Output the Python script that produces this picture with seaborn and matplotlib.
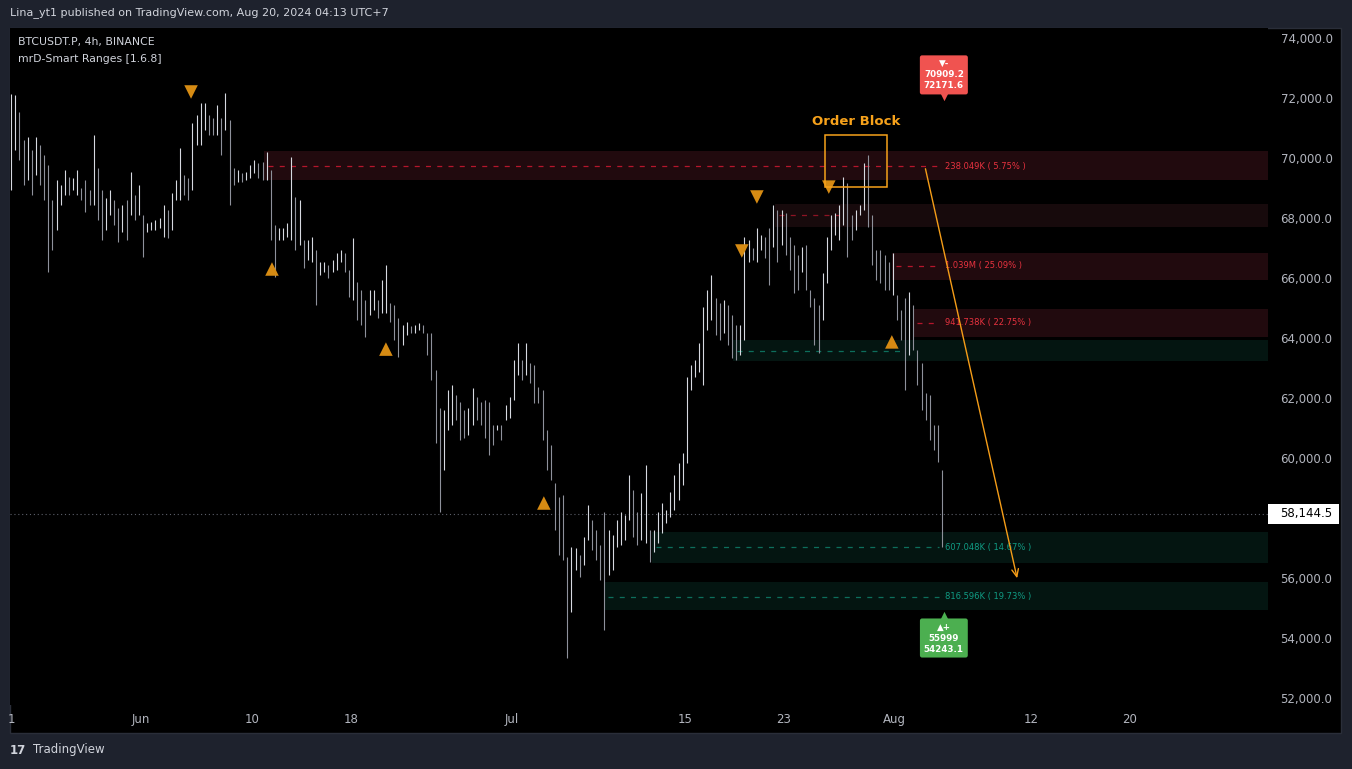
"""
BTCUSDT.P 4h chart with mrD-Smart Ranges zones, redrawn with seaborn/matplotlib.
Run: python plot.py  -> out.png
"""
import numpy as np
import pandas as pd
import matplotlib.pyplot as plt
import matplotlib.transforms as mtransforms
from matplotlib.patches import Rectangle
import seaborn as sns

W, H = 1352, 769

# price bars (8h), values in thousand USDT; day 0 = Jun 1, first bar May 21 12:00
FIRST_DAY = -10.5
BAR_HIGH = [
    72.13, 72.10, 71.53, 70.60, 70.70, 70.27, 70.70, 70.43, 70.10, 69.77,
    68.60, 69.27, 69.10, 69.60, 69.37, 69.33, 69.60, 69.00, 69.27, 68.93,
    70.77, 69.67, 68.93, 68.67, 68.93, 68.60, 68.33, 68.43, 68.60, 69.53,
    68.77, 69.10, 68.10, 67.83, 67.87, 67.93, 68.00, 68.43, 68.27, 68.83,
    69.27, 70.33, 69.43, 69.33, 71.17, 71.43, 71.83, 71.83, 71.43, 71.33,
    71.77, 71.33, 72.17, 71.27, 69.67, 69.60, 69.50, 69.53, 69.77, 69.93,
    69.83, 69.87, 70.20, 69.60, 67.77, 67.67, 67.67, 67.83, 70.03, 68.70,
    68.60, 67.27, 67.27, 67.37, 66.93, 66.53, 66.53, 66.43, 66.60, 66.83,
    66.93, 66.83, 66.27, 67.33, 65.87, 65.60, 65.27, 65.60, 65.60, 65.27,
    65.93, 66.43, 65.17, 65.10, 64.67, 64.43, 64.53, 64.40, 64.43, 64.50,
    64.43, 64.17, 64.17, 62.93, 61.67, 61.60, 62.27, 62.43, 62.10, 61.87,
    61.60, 61.67, 62.33, 62.03, 61.87, 61.93, 61.87, 61.10, 61.10, 61.10,
    61.77, 62.03, 63.27, 63.83, 63.27, 63.83, 63.17, 63.10, 62.37, 62.27,
    60.93, 60.43, 59.17, 58.70, 58.77, 56.70, 57.03, 57.00, 56.77, 57.37,
    58.43, 57.93, 57.60, 57.10, 58.20, 57.60, 57.43, 57.93, 58.20, 58.10,
    59.43, 58.93, 58.20, 58.83, 59.77, 57.60, 57.60, 58.20, 58.50, 58.27,
    58.87, 59.43, 59.83, 60.17, 62.70, 63.10, 63.27, 63.83, 65.03, 65.60,
    66.10, 65.33, 65.17, 65.27, 65.10, 64.77, 64.43, 64.43, 67.37, 67.27,
    67.00, 67.67, 67.43, 67.37, 67.67, 68.43, 68.27, 68.27, 68.17, 67.37,
    67.10, 66.77, 67.03, 67.10, 65.60, 65.33, 65.10, 66.17, 67.37, 68.10,
    68.17, 68.43, 69.37, 69.17, 68.10, 68.27, 68.43, 69.83, 70.10, 68.10,
    66.93, 66.93, 66.77, 66.53, 66.83, 65.43, 64.93, 65.33, 65.53, 65.10,
    63.60, 63.17, 62.17, 62.10, 61.10, 61.10, 59.60,
]
BAR_LOW = [
    68.93, 70.27, 69.93, 69.10, 69.27, 68.77, 69.43, 69.10, 68.60, 66.20,
    66.93, 67.60, 68.43, 68.77, 68.77, 68.93, 68.77, 68.60, 68.20, 68.43,
    68.43, 67.93, 67.27, 67.60, 68.10, 67.77, 67.20, 67.53, 67.27, 68.10,
    67.93, 68.10, 66.70, 67.53, 67.60, 67.60, 67.67, 67.37, 67.33, 67.60,
    68.60, 68.60, 68.77, 68.60, 68.93, 70.43, 70.43, 70.93, 70.77, 70.77,
    70.77, 70.10, 70.93, 68.43, 69.10, 69.20, 69.20, 69.27, 69.33, 69.50,
    69.33, 69.27, 69.27, 67.27, 66.03, 67.27, 67.27, 67.37, 67.27, 66.93,
    67.10, 66.33, 66.60, 66.53, 65.10, 66.10, 66.20, 66.00, 66.20, 66.27,
    66.53, 66.20, 65.37, 65.27, 64.60, 64.43, 64.03, 64.77, 64.93, 64.67,
    64.83, 64.83, 64.53, 63.93, 63.37, 63.77, 64.10, 64.17, 64.17, 64.27,
    64.17, 63.43, 62.60, 60.50, 58.20, 59.60, 60.93, 61.10, 61.27, 60.60,
    60.67, 60.77, 61.10, 61.27, 61.10, 60.67, 60.10, 60.43, 60.93, 60.60,
    61.27, 61.33, 61.93, 62.77, 62.60, 62.77, 62.50, 61.83, 61.83, 60.60,
    59.60, 59.27, 57.60, 56.77, 56.60, 53.33, 54.87, 56.27, 56.03, 56.43,
    57.27, 56.93, 56.60, 55.93, 54.27, 56.10, 56.27, 57.03, 57.10, 57.27,
    57.93, 57.37, 57.10, 57.27, 57.17, 56.53, 56.87, 57.17, 57.50, 57.83,
    58.03, 58.27, 58.60, 59.10, 59.83, 62.27, 62.70, 62.87, 62.43, 64.27,
    64.60, 64.10, 63.93, 64.17, 63.77, 63.33, 63.27, 63.43, 63.93, 66.53,
    66.60, 66.53, 66.93, 66.67, 65.77, 67.03, 66.53, 67.10, 66.77, 66.27,
    65.50, 65.60, 66.20, 65.60, 65.03, 63.77, 63.50, 64.60, 65.83, 66.93,
    67.43, 67.27, 67.77, 66.70, 67.27, 67.60, 68.10, 68.27, 67.70, 66.43,
    65.93, 65.83, 65.60, 65.60, 65.43, 64.60, 63.93, 62.27, 63.43, 63.60,
    62.43, 61.60, 61.27, 60.60, 60.27, 59.87, 57.03,
]
LAST_PRICE = 58144.5

# axes
X_MIN, X_MAX = -10.6, 91.2
Y_MIN, Y_MAX = 51767, 74333
TICK_DAYS = [-10.5, 0, 9, 17, 30, 44, 52, 61, 72, 80]
TICK_LABELS = ["1", "Jun", "10", "18", "Jul", "15", "23", "Aug", "12", "20"]
# 58,000 is covered by the last-price tag in the original
PRICE_TICKS = [52000, 54000, 56000, 60000, 62000, 64000, 66000, 68000, 70000, 72000, 74000]

# smart range zones (supply = red, demand = green)
ZONE_SIDE = ["supply", "supply_weak", "supply", "supply", "demand", "demand", "demand"]
ZONE_START = [9.95, 51.3, 60.76, 62.46, 47.9, 41.34, 37.46]
ZONE_TOP = [70233, 68467, 66833, 64967, 63933, 57533, 55867]
ZONE_BOTTOM = [69267, 67700, 65933, 64033, 63233, 56500, 54933]
ZONE_LEVEL = [69733, 68100, 66400, 64500, 63567, 57033, 55367]
ZONE_DASH_END = [64.6, 56.5, 64.6, 64.6, 61.4, 64.6, 64.6]
ZONE_LABEL = ["238.049K ( 5.75% )", "", "1.039M ( 25.09% )", "941.738K ( 22.75% )",
              "", "607.048K ( 14.67% )", "816.596K ( 19.73% )"]

# swing markers
SWING_DAY = [4.05, 49.84, 48.62, 55.66, 10.6, 19.82, 32.6, 60.76]
SWING_PRICE = [72200, 68700, 66900, 69030, 66300, 63630, 58500, 63870]
SWING_KIND = ["down", "down", "down", "down", "up", "up", "up", "up"]

# order block box and projection arrow
OB_DAYS = (55.34, 60.36)
OB_PRICES = (69030, 70770)
ARROW_FROM = (63.43, 69733)
ARROW_TO = (70.95, 55900)

BG_OUTER = "#1e222d"
TEXT = "#d1d4dc"
AXIS_TEXT = "#b2b5be"
ORANGE = "#f7a21b"

sns.set_theme(style="dark")
plt.rcParams["font.family"] = ["DejaVu Sans"]


def px_x(px):
    return px / W


def px_y(py):
    return 1 - py / H


fig = plt.figure(figsize=(W / 100, H / 100), dpi=100)
fig.patch.set_facecolor(BG_OUTER)
fig.add_artist(Rectangle((px_x(10), px_y(733)), (1341 - 10) / W, (733 - 28) / H,
                         transform=fig.transFigure, facecolor="black",
                         edgecolor="#2a2e39", lw=1, zorder=-5))

ax = fig.add_axes([px_x(10), px_y(705), (1268 - 10) / W, (705 - 28) / H])
ax.set_facecolor("black")
for s in ax.spines.values():
    s.set_visible(False)
ax.set_xlim(X_MIN, X_MAX)
ax.set_ylim(Y_MIN, Y_MAX)

# zones
zone_style = {
    "supply": ("#210a0e", "#b5162c", "#e8323f"),
    "supply_weak": ("#170a0c", "#8e1424", "#e8323f"),
    "demand": ("#041511", "#0d6e5c", "#109c84"),
}
for side, x0, top, bot, lvl, x1, lab in zip(ZONE_SIDE, ZONE_START, ZONE_TOP, ZONE_BOTTOM,
                                             ZONE_LEVEL, ZONE_DASH_END, ZONE_LABEL):
    fill, dash, txt = zone_style[side]
    ax.add_patch(Rectangle((x0, bot), X_MAX - x0, top - bot, facecolor=fill,
                           edgecolor="none", zorder=1))
    ax.plot([x0 + 0.3, x1], [lvl, lvl], color=dash, lw=0.9, ls=(0, (4, 5)), zorder=2)
    if lab:
        ax.text(65.1, lvl, lab, color=txt, fontsize=6, va="center", ha="left", zorder=6)

# current price line
ax.axhline(LAST_PRICE, color="#5d606b", lw=0.8, ls=(0, (1, 2.5)), zorder=2)

# price bars
bars = pd.DataFrame({"high": np.array(BAR_HIGH) * 1000, "low": np.array(BAR_LOW) * 1000})
bars["day"] = FIRST_DAY + np.arange(len(bars)) / 3
mid = (bars["high"] + bars["low"]) / 2
up = mid.diff().fillna(0) >= 0
ax.vlines(bars["day"], bars["low"], bars["high"],
          colors=np.where(up, "#d6d9e0", "#8e919b"), lw=0.8, zorder=3)

# swing triangles
swings = pd.DataFrame({"day": SWING_DAY, "price": SWING_PRICE, "kind": SWING_KIND})
sns.scatterplot(data=swings, x="day", y="price", style="kind",
                markers={"down": "v", "up": "^"}, color="#d68b13", s=95,
                linewidth=0, legend=False, ax=ax, zorder=5)

# order block
ax.add_patch(Rectangle((OB_DAYS[0], OB_PRICES[0]), OB_DAYS[1] - OB_DAYS[0],
                       OB_PRICES[1] - OB_PRICES[0], fill=False, edgecolor=ORANGE,
                       lw=1.1, zorder=6))
ax.text(sum(OB_DAYS) / 2, 71233, "Order Block", color=ORANGE, fontsize=9.5,
        fontweight="bold", ha="center", va="center", zorder=6)

# projection arrow
ax.annotate("", xy=ARROW_TO, xytext=ARROW_FROM,
            arrowprops=dict(arrowstyle="->,head_length=0.45,head_width=0.2",
                            color="#f59d18", lw=1.0), zorder=7)

# high / low labels
ax.text(64.97, 72770, "▼-\n70909.2\n72171.6", color="white", fontsize=6.3,
        fontweight="bold", ha="center", va="center", linespacing=1.3, zorder=8,
        bbox=dict(boxstyle="round,pad=0.45,rounding_size=0.25", fc="#f05350", ec="none"))
ax.scatter([64.97], [72040], marker="v", s=28, color="#f05350", linewidth=0, zorder=8)
ax.text(64.97, 54000, "▲+\n55999\n54243.1", color="white", fontsize=6.3,
        fontweight="bold", ha="center", va="center", linespacing=1.3, zorder=8,
        bbox=dict(boxstyle="round,pad=0.45,rounding_size=0.25", fc="#4caf50", ec="none"))
ax.scatter([64.97], [54760], marker="^", s=28, color="#4caf50", linewidth=0, zorder=8)

# axes ticks
ax.yaxis.tick_right()
ax.set_yticks(PRICE_TICKS)
ax.set_yticklabels([f"{v:,.1f}" for v in PRICE_TICKS])
ax.set_xticks(TICK_DAYS)
ax.set_xticklabels(TICK_LABELS)
ax.tick_params(axis="y", colors=AXIS_TEXT, labelsize=8.5, length=0, pad=9)
ax.tick_params(axis="x", colors=AXIS_TEXT, labelsize=8.5, length=0, pad=6)
ax.set_xlabel("")
ax.set_ylabel("")
ax.grid(False)

# last price tag on the scale
trans = mtransforms.blended_transform_factory(ax.transAxes, ax.transData)
ax.add_patch(Rectangle((1.0, LAST_PRICE - 330), 71 / 1258, 660, transform=trans,
                       facecolor="white", edgecolor="none", clip_on=False, zorder=9))
ax.text(1.0095, LAST_PRICE, f"{LAST_PRICE:,.1f}", transform=trans, color="black",
        fontsize=8.5, ha="left", va="center", clip_on=False, zorder=10)

# header / legend texts
fig.text(px_x(10), px_y(13), "Lina_yt1 published on TradingView.com, Aug 20, 2024 04:13 UTC+7",
         color=TEXT, fontsize=8, va="center", ha="left")
fig.text(px_x(18), px_y(42), "BTCUSDT.P, 4h, BINANCE", color=TEXT, fontsize=7.8,
         va="center", ha="left")
fig.text(px_x(18), px_y(59), "mrD-Smart Ranges [1.6.8]", color=TEXT, fontsize=7.8,
         va="center", ha="left")
fig.text(px_x(10), px_y(750), "17", color=TEXT, fontsize=8.5, fontweight="heavy",
         va="center", ha="left")
fig.text(px_x(33), px_y(750), "TradingView", color=TEXT, fontsize=8.5,
         va="center", ha="left")

fig.savefig("out.png", dpi=100, facecolor=fig.get_facecolor())
